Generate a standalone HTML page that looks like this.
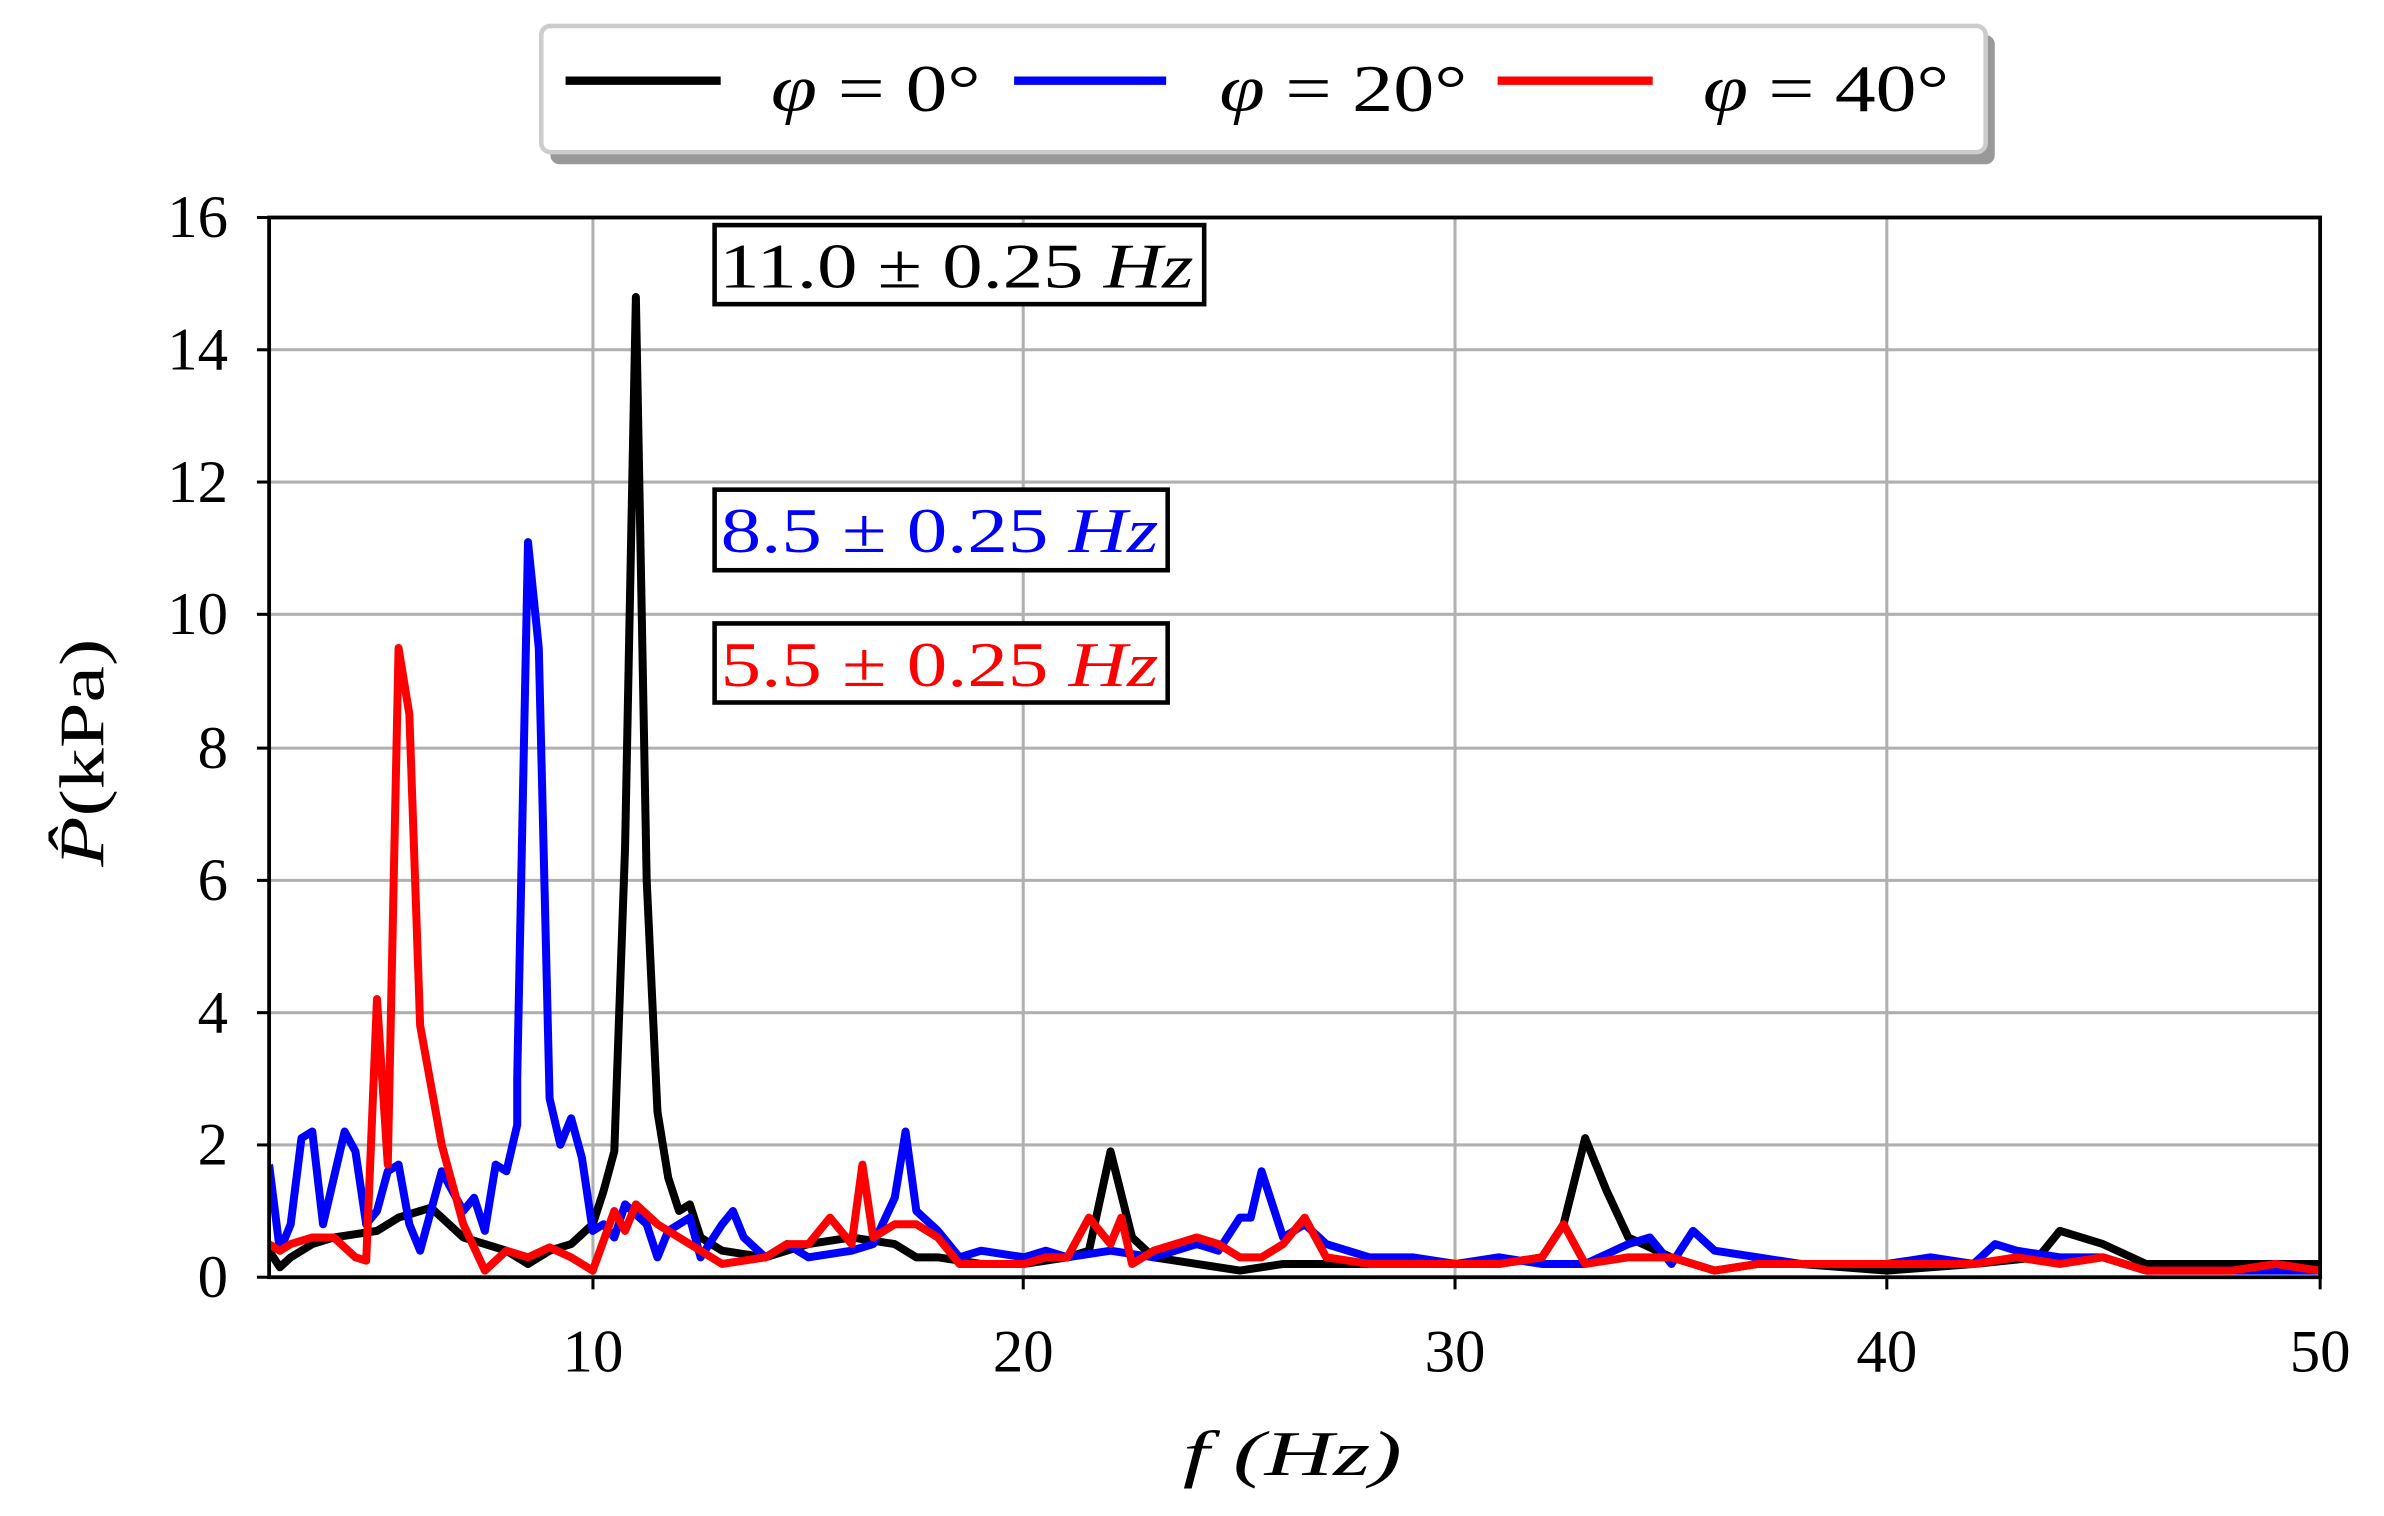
<!DOCTYPE html>
<html><head><meta charset="utf-8"><style>
html,body{margin:0;padding:0;background:#fff}
svg{display:block}
text{font-family:"Liberation Serif",serif;}
</style></head><body>
<svg width="2384" height="1516" viewBox="0 0 1568 997" xmlns="http://www.w3.org/2000/svg">
<defs><clipPath id="c"><rect x="177" y="143" width="1349" height="697"/></clipPath></defs>
<rect width="1568" height="997" fill="#fff"/>
<g stroke="#b0b0b0" stroke-width="2">
<line x1="390" y1="143" x2="390" y2="840"/><line x1="673" y1="143" x2="673" y2="840"/>
<line x1="957" y1="143" x2="957" y2="840"/><line x1="1241" y1="143" x2="1241" y2="840"/>
<line x1="177" y1="753" x2="1526" y2="753"/><line x1="177" y1="666" x2="1526" y2="666"/>
<line x1="177" y1="579" x2="1526" y2="579"/><line x1="177" y1="492" x2="1526" y2="492"/>
<line x1="177" y1="404" x2="1526" y2="404"/><line x1="177" y1="317" x2="1526" y2="317"/>
<line x1="177" y1="230" x2="1526" y2="230"/>
</g>
<g clip-path="url(#c)">
<g transform="translate(177,840) scale(28.38,-43.56) translate(-2.5,0)" fill="none" stroke-linejoin="round">
<polyline vector-effect="non-scaling-stroke" stroke="#000" stroke-width="8" points="2.5,0.4 2.75,0.15 3,0.3 3.5,0.5 4,0.6 4.5,0.65 5,0.7 5.5,0.9 6,1.0 6.25,1.05 6.5,0.9 7,0.6 7.5,0.5 8,0.4 8.5,0.2 9,0.4 9.5,0.5 10,0.8 10.25,1.3 10.5,1.9 10.75,6.5 11,14.8 11.25,6 11.5,2.5 11.75,1.5 12,1.0 12.25,1.1 12.5,0.6 13,0.4 14,0.3 15,0.5 16,0.6 17,0.5 17.5,0.3 18,0.3 19,0.2 20,0.2 21,0.3 21.5,0.4 22,1.9 22.5,0.6 23,0.3 24,0.2 25,0.1 26,0.2 27,0.2 28,0.2 29,0.2 30,0.2 31,0.2 32,0.3 32.5,0.8 33,2.1 33.5,1.3 34,0.6 35,0.3 36,0.1 37,0.2 38,0.2 40,0.1 42,0.2 43.5,0.3 44,0.7 45,0.5 46,0.2 48,0.2 50,0.2"/>
<polyline vector-effect="non-scaling-stroke" stroke="#0000ff" stroke-width="8" points="2.5,1.7 2.75,0.4 3,0.8 3.25,2.1 3.5,2.2 3.75,0.8 4.25,2.2 4.5,1.9 4.75,0.8 5,1.0 5.25,1.6 5.5,1.7 5.75,0.8 6,0.4 6.25,1.0 6.5,1.6 6.75,1.3 7,1.0 7.25,1.2 7.5,0.7 7.75,1.7 8,1.6 8.25,2.3 8.25,3.0 8.5,11.1 8.75,9.5 9,2.7 9.25,2.0 9.5,2.4 9.75,1.8 10,0.7 10.25,0.8 10.5,0.6 10.75,1.1 11.25,0.8 11.5,0.3 11.75,0.7 12.25,0.9 12.5,0.3 13,0.8 13.25,1.0 13.5,0.6 14,0.3 14.5,0.5 15,0.3 16,0.4 16.5,0.5 17,1.2 17.25,2.2 17.5,1.0 18,0.7 18.5,0.3 19,0.4 20,0.3 20.5,0.4 21,0.3 22,0.4 23,0.3 24,0.5 24.5,0.4 25,0.9 25.25,0.9 25.5,1.6 26,0.6 26.5,0.8 27,0.5 28,0.3 29,0.3 30,0.2 31,0.3 32,0.2 33,0.2 34,0.5 34.5,0.6 35,0.2 35.5,0.7 36,0.4 37,0.3 38,0.2 39,0.2 40,0.2 41,0.3 42,0.2 42.5,0.5 43,0.4 44,0.3 45,0.3 46,0.1 48,0.1 50,0.1"/>
<polyline vector-effect="non-scaling-stroke" stroke="#ff0000" stroke-width="8" points="2.5,0.5 2.75,0.4 3,0.5 3.5,0.6 4,0.6 4.5,0.3 4.75,0.25 5,4.2 5.25,1.7 5.5,9.5 5.75,8.5 6,3.8 6.5,2.0 7,0.8 7.5,0.1 8,0.4 8.5,0.3 9,0.45 9.5,0.3 10,0.1 10.5,1.0 10.75,0.7 11,1.1 11.5,0.8 12,0.6 13,0.2 14,0.3 14.5,0.5 15,0.5 15.5,0.9 16,0.5 16.25,1.7 16.5,0.6 17,0.8 17.5,0.8 18,0.6 18.5,0.2 19,0.2 20,0.2 20.5,0.3 21,0.3 21.5,0.9 22,0.5 22.25,0.9 22.5,0.2 23,0.4 23.5,0.5 24,0.6 24.5,0.5 25,0.3 25.5,0.3 26,0.5 26.5,0.9 27,0.3 28,0.2 29,0.2 30,0.2 31,0.2 32,0.3 32.5,0.8 33,0.2 34,0.3 35,0.3 36,0.1 37,0.2 38,0.2 40,0.2 41,0.2 42,0.2 43,0.3 44,0.2 45,0.3 46,0.1 48,0.1 49,0.2 50,0.1"/>
</g></g>
<rect x="177" y="143" width="1349" height="697" fill="none" stroke="#000" stroke-width="2.5"/>
<g stroke="#000" stroke-width="2">
<line x1="390" y1="840" x2="390" y2="848"/><line x1="673" y1="840" x2="673" y2="848"/><line x1="957" y1="840" x2="957" y2="848"/><line x1="1241" y1="840" x2="1241" y2="848"/><line x1="1526" y1="840" x2="1526" y2="848"/>
<line x1="169" y1="840" x2="177" y2="840"/><line x1="169" y1="753" x2="177" y2="753"/><line x1="169" y1="666" x2="177" y2="666"/><line x1="169" y1="579" x2="177" y2="579"/><line x1="169" y1="492" x2="177" y2="492"/><line x1="169" y1="404" x2="177" y2="404"/><line x1="169" y1="317" x2="177" y2="317"/><line x1="169" y1="230" x2="177" y2="230"/><line x1="169" y1="143" x2="177" y2="143"/>
</g>
<g font-size="40" text-anchor="end">
<text x="150" y="853">0</text><text x="150" y="766">2</text><text x="150" y="679">4</text><text x="150" y="592">6</text><text x="150" y="505">8</text><text x="150" y="417">10</text><text x="150" y="330">12</text><text x="150" y="243">14</text><text x="150" y="156">16</text>
</g>
<g font-size="40" text-anchor="middle">
<text x="390" y="902">10</text><text x="673" y="902">20</text><text x="957" y="902">30</text><text x="1241" y="902">40</text><text x="1526" y="902">50</text>
</g>
<text x="778" y="970" font-size="42" font-style="italic" textLength="144" lengthAdjust="spacingAndGlyphs">f  (Hz)</text>
<text transform="translate(68,495) rotate(-90)" font-size="42" text-anchor="middle" textLength="150" lengthAdjust="spacingAndGlyphs"><tspan font-style="italic">P̂</tspan>(kPa)</text>
<g font-size="42">
<rect x="470" y="148" width="322" height="52" fill="#fff" stroke="#000" stroke-width="3"/>
<text x="473" y="189" textLength="312" lengthAdjust="spacingAndGlyphs">11.0 ± 0.25 <tspan font-style="italic">Hz</tspan></text>
<rect x="470" y="322" width="298" height="53" fill="#fff" stroke="#000" stroke-width="3"/>
<text x="474" y="363" fill="#0000ff" textLength="288" lengthAdjust="spacingAndGlyphs">8.5 ± 0.25 <tspan font-style="italic">Hz</tspan></text>
<rect x="470" y="410" width="298" height="52" fill="#fff" stroke="#000" stroke-width="3"/>
<text x="474" y="451" fill="#ff0000" textLength="288" lengthAdjust="spacingAndGlyphs">5.5 ± 0.25 <tspan font-style="italic">Hz</tspan></text>
</g>
<rect x="362" y="23" width="950" height="85" rx="6" fill="#999"/>
<rect x="356" y="17" width="950" height="83" rx="6" fill="#fff" stroke="#ccc" stroke-width="3"/>
<g stroke-width="5.5">
<line x1="372" y1="53" x2="474" y2="53" stroke="#000"/>
<line x1="667" y1="53" x2="767" y2="53" stroke="#0000ff"/>
<line x1="985" y1="53" x2="1087" y2="53" stroke="#ff0000"/>
</g>
<g font-size="44">
<text x="507" y="73" textLength="138" lengthAdjust="spacingAndGlyphs"><tspan font-style="italic">φ</tspan> = 0°</text>
<text x="802" y="73" textLength="163" lengthAdjust="spacingAndGlyphs"><tspan font-style="italic">φ</tspan> = 20°</text>
<text x="1120" y="73" textLength="162" lengthAdjust="spacingAndGlyphs"><tspan font-style="italic">φ</tspan> = 40°</text>
</g>
</svg>
</body></html>
